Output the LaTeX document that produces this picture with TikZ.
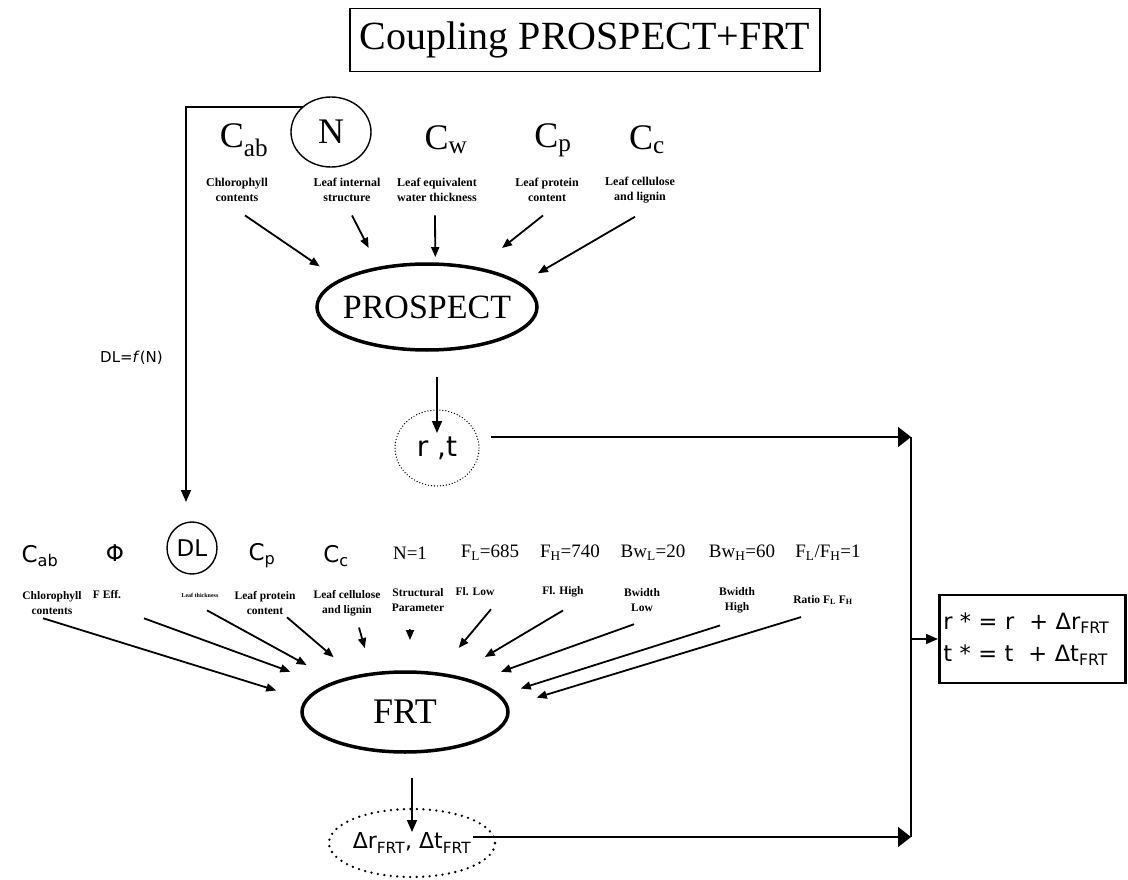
\documentclass[tikz,border=0pt]{standalone}
\usepackage{fontspec}
\setmainfont{Liberation Serif}
\newfontfamily\tahoma{DejaVu Sans}
\usetikzlibrary{shapes.geometric, arrows.meta, positioning, calc}
\newcommand{\fsz}[2]{\fontsize{#1}{#2}\selectfont}
\tikzset{
  model/.style={ellipse, draw, line width=3.5pt, inner sep=0pt, outer sep=0pt},
  invar/.style={font=\fsz{36}{40}, inner sep=0pt},
  frtvar/.style={font=\fsz{19}{22}, inner sep=0pt},
  sansvar/.style={font=\tahoma\fsz{23}{26}, inner sep=0pt},
  desc/.style={font=\bfseries\fsz{12}{15}, align=center, inner sep=1pt},
  descl/.style={font=\bfseries\fsz{11.5}{15}, align=center, inner sep=1pt},
  ring/.style={ellipse, draw, line width=1.4pt, inner sep=0pt, outer sep=0pt},
  outnode/.style={ellipse, draw, line width=1.7pt, dash pattern=on 0pt off 3.6pt,
    line cap=round, inner sep=0pt, outer sep=0pt},
  arrow/.style={-{Triangle[length=12pt,width=10pt]}, line width=1.6pt},
  bigarrow/.style={-{Triangle[length=13pt,width=20pt]}, line width=1.6pt},
  parrow/.style={-{Triangle[length=10pt,width=8pt]}, line width=1.8pt},
  line/.style={line width=1.4pt}
}
\begin{document}
\begin{tikzpicture}[x=1pt, y=-1pt]
  \useasboundingbox (0,0) rectangle (1128,880);
  % Title
  \node[draw, line width=1.5pt, minimum width=470pt, minimum height=63pt,
    font=\fsz{40}{44}] (title) at (585,40) {Coupling PROSPECT+FRT};
  % PROSPECT inputs
  \node[invar] (cab) at (244,140) {C\textsubscript{ab}};
  \node[ring, invar, minimum width=80pt, minimum height=70pt] (nin) at (331,132) {N};
  \node[invar] (cw) at (446,140) {C\textsubscript{w}};
  \node[invar] (cp) at (553,140) {C\textsubscript{p}};
  \node[invar] (cc) at (647,140) {C\textsubscript{c}};
  \node[desc] (cabtxt) at (237,190) {Chlorophyll\\contents};
  \node[desc] (nintxt) at (347,190) {Leaf internal\\structure};
  \node[desc] (cwtxt) at (437,190) {Leaf equivalent\\water thickness};
  \node[desc] (cptxt) at (547,190) {Leaf protein\\content};
  \node[desc] (cctxt) at (640,190) {Leaf cellulose\\and lignin};
  % PROSPECT model
  \node[model, minimum width=220pt, minimum height=86pt,
    label={[font=\fsz{34}{38}]center:PROSPECT}] (prospect) at (427,307) {};
  \foreach \d/\dx/\a/\g in {cabtxt/8/163/25, nintxt/5/141/23, cwtxt/-2/79/7,
      cptxt/-4/38/33, cctxt/-5/14/21}
    \draw[parrow, shorten >=\g pt] ([shift={(\dx pt,-12.5pt)}]\d.south) -- (prospect.\a);
  % Leaf reflectance and transmittance
  \node[outnode, line width=1.4pt, dash pattern=on 0pt off 3pt,
    minimum width=84pt, minimum height=76pt, font=\tahoma\fsz{28}{30}] (rt) at (437,448) {r ,t};
  \draw[arrow, shorten <=27pt, shorten >=15pt] (prospect.south -| rt) -- (rt.center);
  % DL derived from N
  \node[font=\tahoma\fsz{15}{17}, anchor=east, inner sep=0pt] (dlf) at (163,358) {DL=\textit{f}(N)};
  % FRT inputs
  \node[sansvar] (cabl) at (40,556) {C\textsubscript{ab}};
  \node[sansvar] (phi) at (115,553) {Φ};
  \node[ring, sansvar, minimum width=50pt, minimum height=52pt] (dl) at (192,548) {DL};
  \node[sansvar] (cpl) at (262,556) {C\textsubscript{p}};
  \node[sansvar] (ccl) at (336,556) {C\textsubscript{c}};
  \node[frtvar] (nl) at (410,553) {N=1};
  \node[frtvar] (fl) at (490,553) {F\textsubscript{L}=685};
  \node[frtvar] (fh) at (570,553) {F\textsubscript{H}=740};
  \node[frtvar] (bwl) at (653,553) {Bw\textsubscript{L}=20};
  \node[frtvar] (bwh) at (742,553) {Bw\textsubscript{H}=60};
  \node[frtvar] (ratio) at (828,553) {F\textsubscript{L}/F\textsubscript{H}=1};
  \node[descl] (cabltxt) at (52,603) {Chlorophyll\\contents};
  \node[descl] (phitxt) at (107,595) {F Eff.};
  \node[descl, font=\bfseries\fsz{6}{7}] (dltxt) at (200,595) {Leaf thickness};
  \node[descl] (cpltxt) at (265,603) {Leaf protein\\content};
  \node[descl] (ccltxt) at (347,603) {Leaf cellulose\\and lignin};
  \node[descl] (nltxt) at (418,600) {Structural\\Parameter};
  \node[descl] (fltxt) at (475,592) {Fl. Low};
  \node[descl] (fhtxt) at (563,592) {Fl. High};
  \node[descl] (bwltxt) at (642,600) {Bwidth\\Low};
  \node[descl] (bwhtxt) at (737,600) {Bwidth\\High};
  \node[descl] (ratiotxt) at (823,600) {Ratio F\textsubscript{L} F\textsubscript{H}};
  \draw[arrow, shorten >=20pt] (nin.138) -| ([xshift=-6pt]dl.north);
  % FRT model
  \node[model, minimum width=206pt, minimum height=80pt, font=\fsz{36}{40}] (frt) at (405,712) {FRT};
  \foreach \d/\dx/\dy/\a/\g in {cabltxt/-9/-2.5/173/32, phitxt/37/-18/161/40,
      dltxt/7/-12/156/35, cpltxt/22/-1.5/144/30, ccltxt/12/-10.5/131/27,
      nltxt/-8/-16.5/83/32, fltxt/16/-12/50/34, fhtxt/0/-12/37/38,
      bwltxt/-8/-11.5/24/30, bwhtxt/-17/-11.5/10/23, ratiotxt/-22/-11/3/31}
    \draw[parrow, shorten >=\g pt] ([shift={(\dx pt,\dy pt)}]\d.south) -- (frt.\a);
  % Fluorescence terms
  \node[outnode, line width=2.6pt, dash pattern=on 0pt off 6.5pt,
    minimum width=166pt, minimum height=68pt,
    label={[font=\tahoma\fsz{22}{24}]center:Δr\textsubscript{FRT}, Δt\textsubscript{FRT}}] (dlt) at (412,843) {};
  \draw[arrow, shorten <=26pt, shorten >=11pt] (frt.south -| dlt) -- (dlt.center);
  % Combined result
  \node[draw, line width=2.5pt, anchor=west, minimum height=88pt, text width=178pt,
    inner xsep=4pt, align=left, font=\tahoma\fsz{22.5}{32}] (res) at (938,639)
    {r * = r~~+ Δr\textsubscript{FRT}\\t * = t~~+ Δt\textsubscript{FRT}};
  \coordinate (topj) at (911,437);
  \coordinate (botj) at (911,837);
  \draw[line] (topj) -- (botj);
  \draw[bigarrow] ([xshift=12pt]rt.east |- topj) -- (topj);
  \draw[bigarrow] ([xshift=-22pt]dlt.east |- botj) -- (botj);
  \draw[arrow] (topj |- res.west) -- (res.west);
\end{tikzpicture}
\end{document}
